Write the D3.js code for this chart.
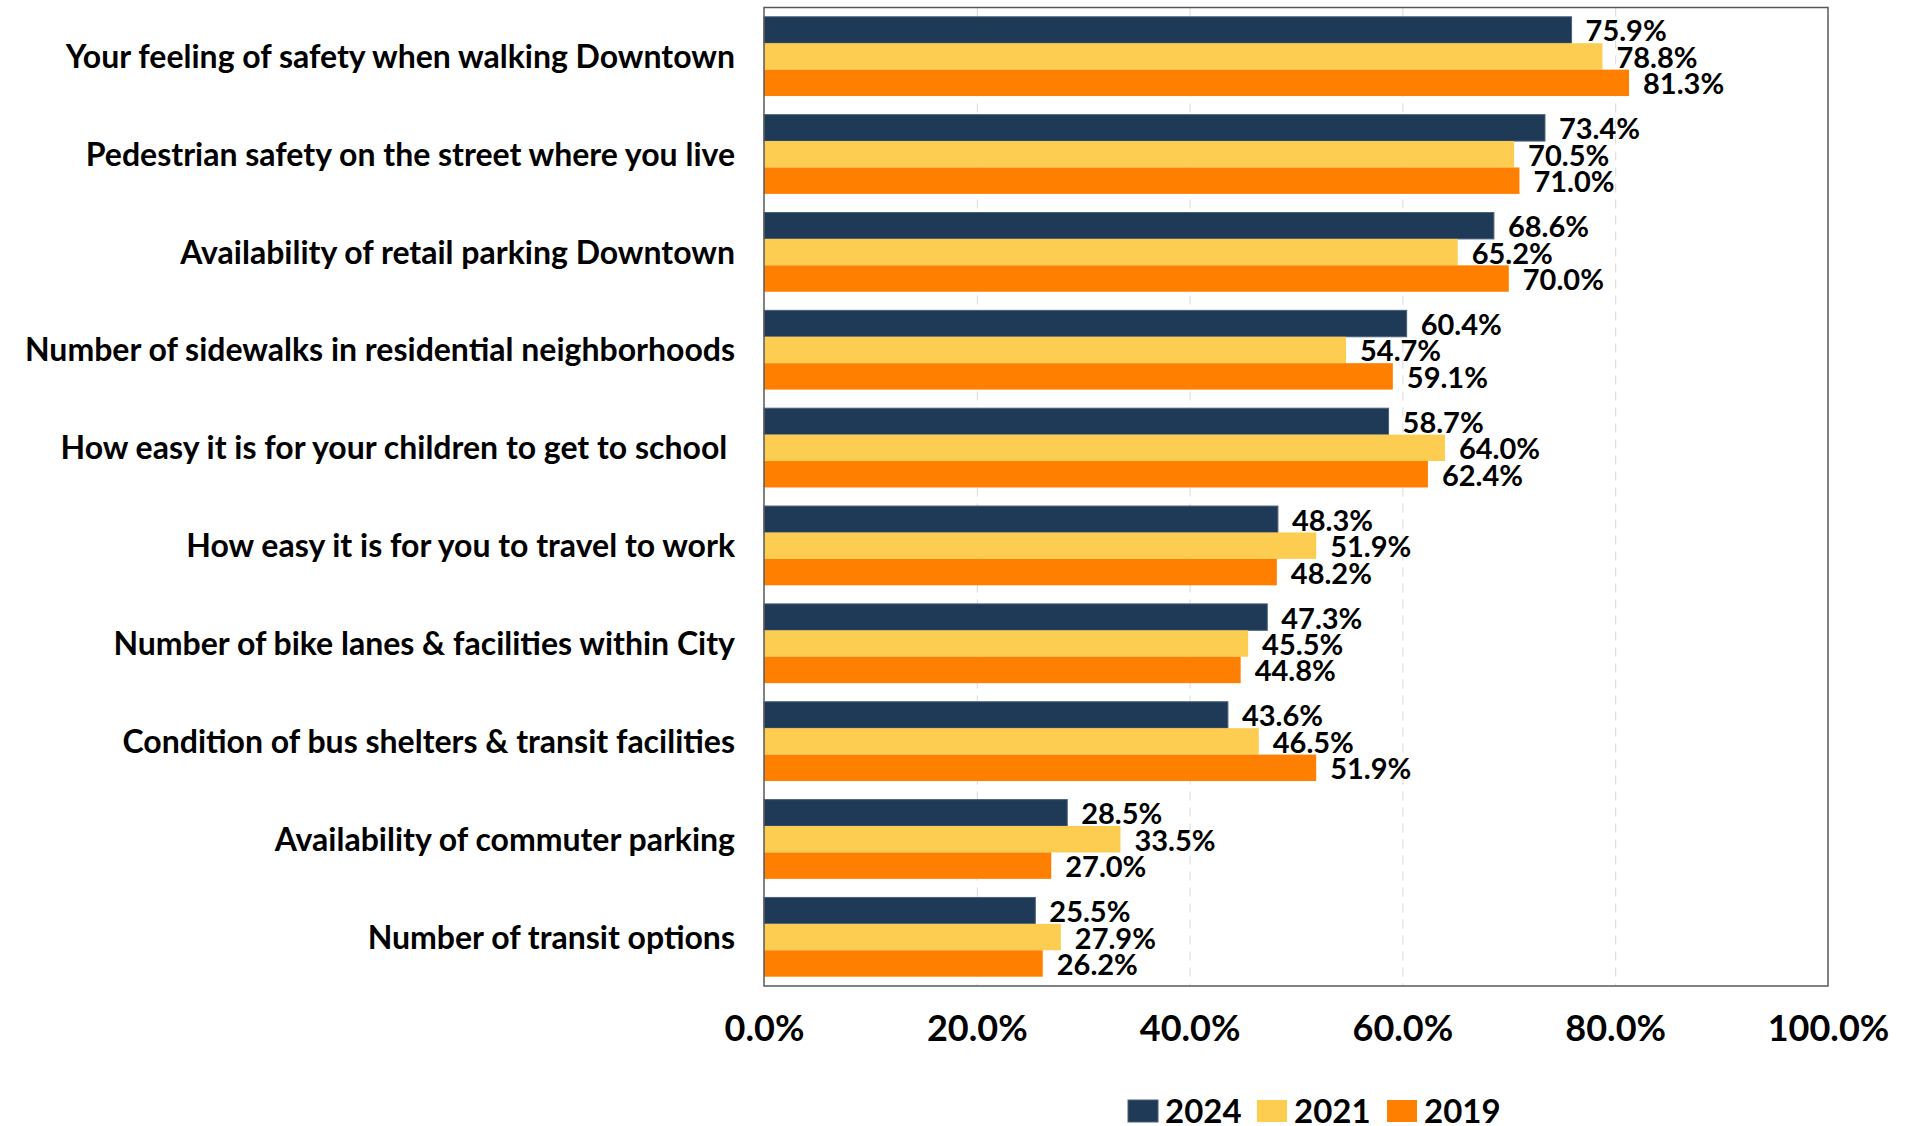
<!DOCTYPE html>
<html>
<head>
<meta charset="utf-8">
<script src="https://cdn.jsdelivr.net/npm/d3@7"></script>
<style>
  body { margin: 0; background: #fff; }
  text { font-family: "Lato", "Open Sans", sans-serif; font-weight: bold; fill: #000; }
</style>
</head>
<body>
<script>
let categories = [
    "Your feeling of safety when walking Downtown",
    "Pedestrian safety on the street where you live",
    "Availability of retail parking Downtown",
    "Number of sidewalks in residential neighborhoods",
    "How easy it is for your children to get to school ",
    "How easy it is for you to travel to work",
    "Number of bike lanes & facilities within City",
    "Condition of bus shelters & transit facilities",
    "Availability of commuter parking",
    "Number of transit options"
];
let years = ["2024", "2021", "2019"];
let values2024 = [75.9, 73.4, 68.6, 60.4, 58.7, 48.3, 47.3, 43.6, 28.5, 25.5];
let values2021 = [78.8, 70.5, 65.2, 54.7, 64.0, 51.9, 45.5, 46.5, 33.5, 27.9];
let values2019 = [81.3, 71.0, 70.0, 59.1, 62.4, 48.2, 44.8, 51.9, 27.0, 26.2];
let xTicks = [0, 20, 40, 60, 80, 100];
let colors = ["#1F3A56", "#FCCD50", "#FF8000"];

let series = [values2024, values2021, values2019];
let rows = categories.map((c, i) => ({
    name: c,
    vals: years.map((y, j) => ({year: y, value: series[j][i], idx: j}))
}));

let plot = {left: 764, right: 1828, top: 7.5, bottom: 986};

let svg = d3.select("body").append("svg")
    .attr("width", 1911)
    .attr("height", 1126);

let x = d3.scaleLinear().domain([0, 100]).range([plot.left, plot.right]);
let y = d3.scaleBand().domain(categories)
    .range([plot.top, plot.bottom])
    .paddingInner(0.19)
    .paddingOuter(0.095);
let ySub = d3.scaleBand().domain(years).range([0, y.bandwidth()]);

// gridlines
svg.append("g")
    .attr("transform", "translate(0," + plot.top + ")")
    .call(d3.axisBottom(x).tickValues([20, 40, 60, 80]).tickSize(plot.bottom - plot.top).tickFormat(""))
    .call(g => g.select(".domain").remove())
    .call(g => g.selectAll("line").attr("stroke", "#d9d9d9").attr("stroke-dasharray", "9,7"));

// bars
let groups = svg.selectAll(".grp")
    .data(rows)
    .enter().append("g")
    .attr("class", "grp")
    .attr("transform", d => "translate(0," + y(d.name) + ")");

groups.selectAll("rect")
    .data(d => d.vals)
    .enter().append("rect")
    .attr("x", x(0))
    .attr("y", d => ySub(d.year))
    .attr("width", d => x(d.value) - x(0))
    .attr("height", ySub.bandwidth())
    .attr("fill", d => colors[d.idx])
    .attr("stroke", d => d.idx == 0 ? "#4b6079" : "none")
    .attr("stroke-width", 1);

groups.selectAll(".val")
    .data(d => d.vals)
    .enter().append("text")
    .attr("class", "val")
    .attr("x", d => x(d.value) + 14)
    .attr("y", d => ySub(d.year) + ySub.bandwidth() / 2 + 1)
    .attr("dy", "0.36em")
    .style("font-size", "29px")
    .text(d => d.value.toFixed(1) + "%");

// category labels
svg.selectAll(".cat")
    .data(categories)
    .enter().append("text")
    .attr("class", "cat")
    .attr("x", plot.left - 29)
    .attr("y", d => y(d) + y.bandwidth() / 2)
    .attr("dy", "0.36em")
    .attr("text-anchor", "end")
    .style("font-size", "32px")
    .style("white-space", "pre")
    .text(d => d);

// plot border
svg.append("rect")
    .attr("x", plot.left)
    .attr("y", plot.top)
    .attr("width", plot.right - plot.left)
    .attr("height", plot.bottom - plot.top)
    .attr("fill", "none")
    .attr("stroke", "#595959")
    .attr("stroke-width", 1.5);

// x axis labels
svg.append("g")
    .attr("transform", "translate(0," + plot.bottom + ")")
    .call(d3.axisBottom(x).tickValues(xTicks).tickSize(0).tickPadding(0).tickFormat(d => d.toFixed(1) + "%"))
    .call(g => g.select(".domain").remove())
    .call(g => g.selectAll("text")
        .attr("y", 42)
        .attr("dy", "0.36em")
        .style("font-family", "Lato, sans-serif")
        .style("font-weight", "bold")
        .style("font-size", "36px")
        .attr("fill", "#000"));

// legend
let legendX = [1128, 1257, 1387];
let legend = svg.selectAll(".leg")
    .data(years)
    .enter().append("g")
    .attr("class", "leg")
    .attr("transform", (d, i) => "translate(" + legendX[i] + ",1100)");

legend.append("rect")
    .attr("width", 30)
    .attr("height", 22)
    .attr("fill", (d, i) => colors[i])
    .attr("stroke", (d, i) => i == 0 ? "#4b6079" : "none");

legend.append("text")
    .attr("x", 37)
    .attr("y", 11)
    .attr("dy", "0.36em")
    .style("font-size", "33px")
    .text(d => d);
</script>
</body>
</html>
